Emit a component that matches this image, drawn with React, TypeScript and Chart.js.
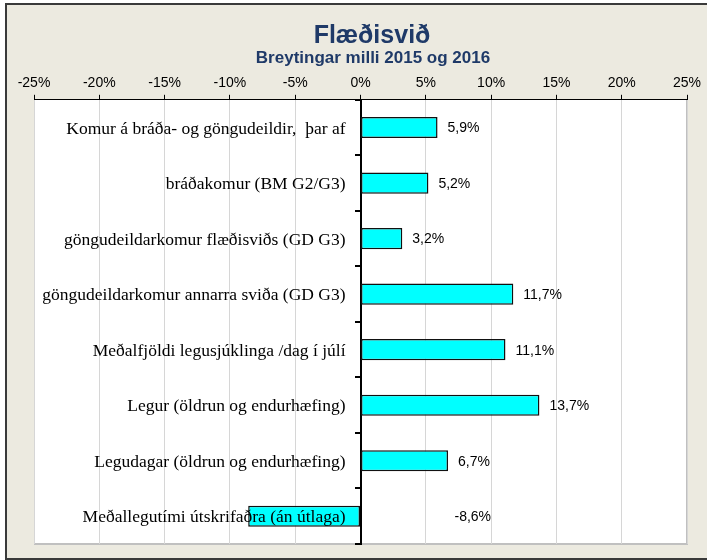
import React, { useEffect, useRef } from 'react';
import { Chart, registerables } from 'chart.js';

Chart.register(...registerables);

const titleText = 'Flæðisvið';
const subtitleText = 'Breytingar milli 2015 og 2016';

const categories = [
  'Komur á bráða- og göngudeildir,  þar af',
  'bráðakomur (BM G2/G3)',
  'göngudeildarkomur flæðisviðs (GD G3)',
  'göngudeildarkomur annarra sviða (GD G3)',
  'Meðalfjöldi legusjúklinga /dag í júlí',
  'Legur (öldrun og endurhæfing)',
  'Legudagar (öldrun og endurhæfing)',
  'Meðallegutími útskrifaðra (án útlaga)',
];

const changes = [5.9, 5.2, 3.2, 11.7, 11.1, 13.7, 6.7, -8.6];

const xMin = -25;
const xMax = 25;
const xStep = 5;

const fmtValue = (v: number) => v.toFixed(1).replace('.', ',') + '%';

const SANS = 'Arial, "Liberation Sans", sans-serif';
const SERIF = '"Liberation Serif", "Times New Roman", serif';

const framePlugin = {
  id: 'frame',
  beforeDraw(chart: any) {
    const { ctx, width, height, chartArea } = chart;
    ctx.save();
    ctx.fillStyle = '#ffffff';
    ctx.fillRect(0, 0, width, height);
    ctx.fillStyle = '#ECEAE0';
    ctx.fillRect(6, 4, width, height - 5);
    ctx.strokeStyle = '#3a3a3a';
    ctx.lineWidth = 2;
    ctx.strokeRect(6, 4, width + 10, height - 5);
    // plot area
    ctx.fillStyle = '#ffffff';
    ctx.fillRect(chartArea.left, chartArea.top, chartArea.right - chartArea.left, chartArea.bottom - chartArea.top);
    ctx.strokeStyle = '#c0c0c0';
    ctx.lineWidth = 2;
    ctx.beginPath();
    ctx.moveTo(chartArea.right, chartArea.top);
    ctx.lineTo(chartArea.right, chartArea.bottom);
    ctx.lineTo(chartArea.left, chartArea.bottom);
    ctx.stroke();
    ctx.restore();
  },
  afterDraw(chart: any) {
    const { ctx } = chart;
    ctx.save();
    ctx.fillStyle = '#1F3A68';
    ctx.textAlign = 'center';
    ctx.textBaseline = 'alphabetic';
    ctx.font = 'bold 25px ' + SANS;
    ctx.fillText(titleText, 372, 43);
    ctx.font = 'bold 17px ' + SANS;
    ctx.fillText(subtitleText, 373, 63);
    ctx.restore();
  },
};

const labelPlugin = {
  id: 'labels',
  afterDatasetsDraw(chart: any) {
    const { ctx } = chart;
    const meta = chart.getDatasetMeta(0);
    const zero = chart.scales.x.getPixelForValue(0);
    ctx.save();
    // category labels, left of the zero axis
    ctx.font = '17.5px ' + SERIF;
    ctx.fillStyle = '#000';
    ctx.textAlign = 'right';
    ctx.textBaseline = 'middle';
    meta.data.forEach((bar: any, i: number) => {
      ctx.fillText(categories[i], zero - 15, bar.y + 1.5);
    });
    // value labels
    ctx.font = '14px ' + SANS;
    ctx.textAlign = 'left';
    meta.data.forEach((bar: any, i: number) => {
      const v = changes[i];
      const x = v >= 0 ? bar.x + 10 : zero + 94;
      ctx.fillText(fmtValue(v), x, bar.y + 1);
    });
    ctx.restore();
  },
};

export default function App() {
  const ref = useRef<HTMLCanvasElement | null>(null);

  useEffect(() => {
    document.body.style.margin = '0';
    const canvas = ref.current;
    if (!canvas) return;
    const chart = new Chart(canvas, {
      type: 'bar',
      data: {
        labels: categories,
        datasets: [
          {
            data: changes,
            backgroundColor: '#00FFFF',
            borderColor: '#111111',
            borderWidth: 1.5,
            borderSkipped: false,
            barPercentage: 0.38,
            categoryPercentage: 1,
          },
        ],
      },
      options: {
        indexAxis: 'y',
        responsive: false,
        animation: false,
        devicePixelRatio: 1,
        layout: { padding: { left: 34, right: 20, top: 72, bottom: 16 } },
        plugins: {
          legend: { display: false },
          tooltip: { enabled: false },
          title: { display: false },
        },
        scales: {
          x: {
            position: 'top',
            min: xMin,
            max: xMax,
            ticks: {
              stepSize: xStep,
              callback: (v: any) => v + '%',
              font: { family: SANS, size: 14 },
              color: '#000',
              padding: 3,
              maxRotation: 0,
            },
            grid: { color: '#d6d6d6', tickColor: '#000', tickLength: 5, lineWidth: 1 },
            border: { color: '#000', width: 1 },
          },
          y: {
            position: { x: 0 },
            z: 1,
            ticks: { display: false },
            grid: { drawOnChartArea: false, tickColor: '#000', tickLength: 5, lineWidth: 2, offset: true },
            border: { color: '#000', width: 2 },
          },
        },
      },
      plugins: [framePlugin, labelPlugin],
    } as any);
    return () => chart.destroy();
  }, []);

  return <canvas ref={ref} width={707} height={560} style={{ display: 'block' }} />;
}
